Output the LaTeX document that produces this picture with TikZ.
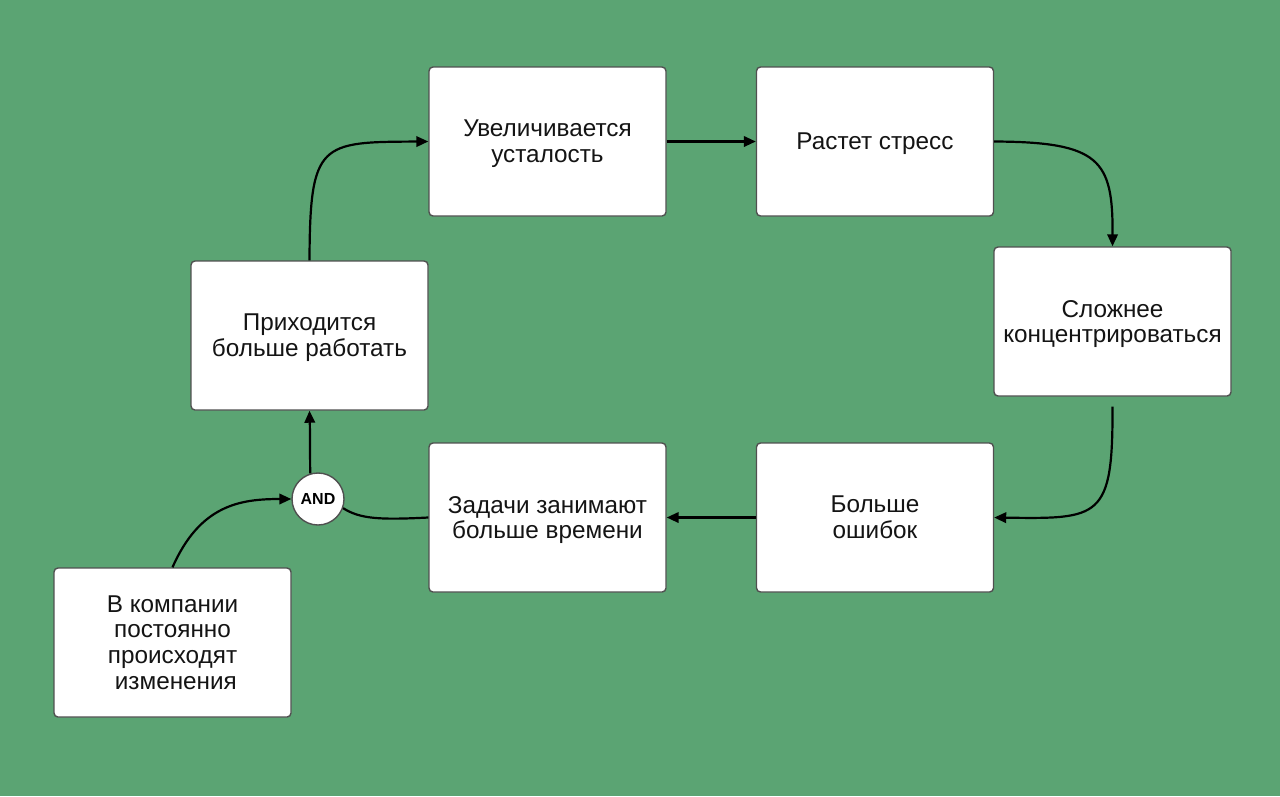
\documentclass[tikz,border=0pt]{standalone}
\usepackage{fontspec}
\setmainfont{Liberation Sans}
\usetikzlibrary{arrows.meta}
\definecolor{bggreen}{RGB}{91,164,115}
\definecolor{boxborder}{RGB}{80,80,80}
\tikzset{
  box/.style={draw=boxborder, line width=1.4pt, fill=white, rounded corners=4pt,
    minimum width=237pt, minimum height=149pt, inner sep=0pt, align=center,
    text depth=0pt, font=\fontsize{24.3}{25.8}\selectfont, text=black!92},
  gate/.style={circle, draw=boxborder, line width=1.4pt, fill=white, minimum size=52pt,
    inner sep=0pt, font=\fontsize{16}{17}\selectfont\bfseries},
  link/.style={line width=2.2pt, black},
  tip/.style={-{Triangle[length=12pt,width=10.5pt]}}
}
\begin{document}
\begin{tikzpicture}[x=1pt,y=-1pt]
\fill[bggreen] (0,0) rectangle (1280,796);
\useasboundingbox (0,0) rectangle (1280,796);

\node[box] (b1) at (547.5,141.5) {Увеличивается\\усталость};
\node[box] (b2) at (875,141.5) {Растет стресс};
\node[box] (b3) at (1112.5,321.5) {Сложнее\\концентрироваться};
\node[box] (b4) at (875,517.5) {Больше\\ошибок};
\node[box] (b5) at (547.5,517.5) {Задачи занимают\\больше времени};
\node[box] (b6) at (309.5,335.5) {Приходится\\больше работать};
\node[box] (b7) at (172.5,642.5) {В компании\\постоянно\\происходят\\\ изменения};
\node[gate] (and) at (318,499) {AND};

\coordinate (b3out) at ([yshift=-10pt]b3.south);

\draw[link,tip] (b6.north) .. controls (310,142) and (320,142) .. (b1.west);
\draw[link,tip] (b1.east) -- (b2.west);
\draw[link,tip] (b2.east) .. controls (1100,142) and (1113,160) .. (b3.north);
\draw[link,tip] (b3out) .. controls (1113,519) and (1100,519) .. (b4.east);
\draw[link,tip] (b4.west) -- (b5.west -| b5.east);
\draw[link] (b5.west) .. controls (380,520) and (360,519) .. (and.-20);
\draw[link,tip] (and.107) .. controls (310,450) and (310,430) .. (b6.south);
\draw[link,tip] (b7.north) .. controls (200,505) and (240,499) .. (and.west);
\end{tikzpicture}
\end{document}
